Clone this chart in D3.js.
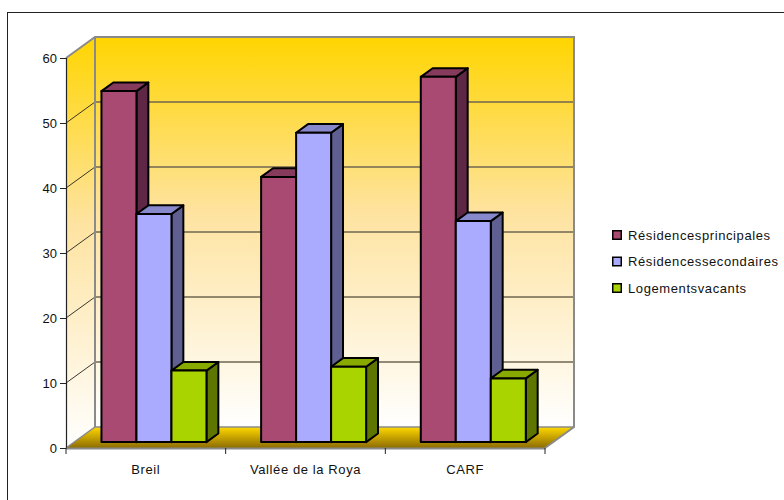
<!DOCTYPE html>
<html>
<head>
<meta charset="utf-8">
<script src="https://cdn.jsdelivr.net/npm/d3@7/dist/d3.min.js"></script>
<style>
  html, body { margin: 0; padding: 0; background: #fff; }
  svg { display: block; }
  text { font-family: "Liberation Sans", Arial, sans-serif; fill: #111; }
</style>
</head>
<body>
<svg id="chart" width="784" height="500"></svg>
<script>
// Housing breakdown by area (%)
const categories = ["Breil", "Vallée de la Roya", "CARF"];
const seriesNames = ["Résidencesprincipales", "Résidencessecondaires", "Logementsvacants"];
const principales = [54, 40.8, 56.2];
const secondaires = [35.1, 47.6, 34];
const vacants = [11, 11.6, 9.8];
const yTicks = [0, 10, 20, 30, 40, 50, 60];

const seriesValues = [principales, secondaires, vacants];
const palette = [
  { front: "#a94a73", top: "#873b5c", side: "#5e2745" },
  { front: "#aaaaff", top: "#8888cc", side: "#5f6091" },
  { front: "#aad400", top: "#88a900", side: "#5e7600" }
];

const svg = d3.select("#chart");

// 3D box geometry
const DX = 29, DY = 21;            // depth offset of the back wall
const zFront = 0.28, zBack = 0.69; // depth span of each bar

const x = d3.scaleBand().domain(categories).range([66, 545]);
const y = d3.scaleLinear().domain([0, 60]).range([448, 58]);
const groupW = 105;
const xs = d3.scaleBand().domain(d3.range(seriesNames.length)).range([-groupW / 2, groupW / 2]);

const P = (px, v, z) => [px + z * DX, y(v) - z * DY];
const poly = pts => "M" + pts.map(p => p.join(",")).join("L") + "Z";

// Gradients
const defs = svg.append("defs");
const wallGrad = defs.append("linearGradient").attr("id", "wall")
  .attr("x1", 0).attr("y1", 0).attr("x2", 0).attr("y2", 1);
wallGrad.append("stop").attr("offset", "0%").attr("stop-color", "#ffd500");
wallGrad.append("stop").attr("offset", "45%").attr("stop-color", "#fee3a0");
wallGrad.append("stop").attr("offset", "100%").attr("stop-color", "#ffffff");

const floorGrad = defs.append("linearGradient").attr("id", "floor")
  .attr("x1", 0).attr("y1", 0).attr("x2", 0).attr("y2", 1);
floorGrad.append("stop").attr("offset", "0%").attr("stop-color", "#ffd800");
floorGrad.append("stop").attr("offset", "100%").attr("stop-color", "#8c6c00");

// Outer frame
svg.append("rect").attr("x", 7.5).attr("y", 12.5).attr("width", 800).attr("height", 520)
  .attr("fill", "none").attr("stroke", "#222").attr("stroke-width", 1);

const xL = x.range()[0], xR = x.range()[1];

// Back wall
svg.append("path")
  .attr("d", poly([P(xL, 0, 1), P(xL, 60, 1), P(xR, 60, 1), P(xR, 0, 1)]))
  .attr("fill", "url(#wall)");
// Left side wall
svg.append("path")
  .attr("d", poly([P(xL, 0, 0), P(xL, 60, 0), P(xL, 60, 1), P(xL, 0, 1)]))
  .attr("fill", "url(#wall)");
// Floor
svg.append("path")
  .attr("d", poly([P(xL, 0, 0), P(xL, 0, 1), P(xR, 0, 1), P(xR, 0, 0)]))
  .attr("fill", "url(#floor)");

// Gridlines on back and side walls
const grid = svg.append("g").attr("stroke", "#6f6650").attr("stroke-width", 1.3).attr("fill", "none");
yTicks.filter(t => t > 0 && t < 60).forEach(t => {
  grid.append("path").attr("d", "M" + P(xL, t, 1).join(",") + "L" + P(xR, t, 1).join(","));
  grid.append("path").attr("d", "M" + P(xL, t, 0).join(",") + "L" + P(xL, t, 1).join(",")).attr("stroke", "#222").attr("stroke-width", 0.9);
});

// Wall edges
const edges = svg.append("g").attr("stroke", "#8a8a8a").attr("stroke-width", 2).attr("fill", "none");
edges.append("path").attr("d", "M" + [P(xL, 60, 0), P(xL, 60, 1), P(xR, 60, 1), P(xR, 0, 1), P(xR, 0, 0)].map(p => p.join(",")).join("L"));
edges.append("path").attr("d", "M" + [P(xL, 0, 1), P(xL, 60, 1)].map(p => p.join(",")).join("L"));
edges.append("path").attr("d", "M" + [P(xL, 0, 0), P(xL, 0, 1), P(xR, 0, 1)].map(p => p.join(",")).join("L")).attr("stroke-width", 1.5);

// Bars (drawn left to right so each front face covers the neighbour's side)
const bars = svg.append("g").attr("stroke", "#000").attr("stroke-width", 2).attr("stroke-linejoin", "round");
categories.forEach((c, ci) => {
  const cx = x(c) + x.bandwidth() / 2;
  seriesValues.forEach((vals, si) => {
    const v = vals[ci];
    const x0 = cx + xs(si), x1 = x0 + xs.bandwidth();
    const col = palette[si];
    bars.append("path").attr("fill", col.side)
      .attr("d", poly([P(x1, 0, zFront), P(x1, v, zFront), P(x1, v, zBack), P(x1, 0, zBack)]));
    bars.append("path").attr("fill", col.top)
      .attr("d", poly([P(x0, v, zFront), P(x0, v, zBack), P(x1, v, zBack), P(x1, v, zFront)]));
    bars.append("path").attr("fill", col.front)
      .attr("d", poly([P(x0, 0, zFront), P(x0, v, zFront), P(x1, v, zFront), P(x1, 0, zFront)]));
  });
});

const labelFont = sel => sel.style("font-size", "13px")
  .style("font-family", "Liberation Sans, Arial, sans-serif").attr("fill", "#111");

// Value axis
const yAxis = svg.append("g").attr("transform", `translate(${xL},0)`)
  .call(d3.axisLeft(y).tickValues(yTicks).tickSize(6).tickPadding(3));
yAxis.select(".domain").attr("stroke", "#222").attr("stroke-width", 1.2);
yAxis.selectAll(".tick line").attr("stroke", "#222");
yAxis.selectAll("text").call(labelFont);

// Category axis
const xAxis = svg.append("g").attr("transform", `translate(0,${y(0)})`)
  .call(d3.axisBottom(x).tickSize(0).tickPadding(17));
xAxis.select(".domain").attr("stroke", "#8a8a8a").attr("stroke-width", 2);
xAxis.selectAll("text").call(labelFont).style("letter-spacing", "0.6px");
// Category separators
svg.append("g").attr("stroke", "#222").selectAll("line")
  .data(categories.map(c => x(c)).concat([xR]))
  .join("line")
  .attr("x1", d => d).attr("x2", d => d)
  .attr("y1", y(0)).attr("y2", y(0) + 6);

// Legend
const legend = svg.append("g").attr("transform", "translate(612,230)");
seriesNames.forEach((name, i) => {
  const g = legend.append("g").attr("transform", `translate(0,${i * 26.5})`);
  g.append("rect").attr("x", 0.75).attr("y", 0.75).attr("width", 8.5).attr("height", 8.5)
    .attr("fill", palette[i].front).attr("stroke", "#000").attr("stroke-width", 1.5);
  g.append("text").attr("x", 16).attr("y", 9.5).style("font-size", "13px")
    .style("letter-spacing", "0.6px").text(name);
});
</script>
</body>
</html>
